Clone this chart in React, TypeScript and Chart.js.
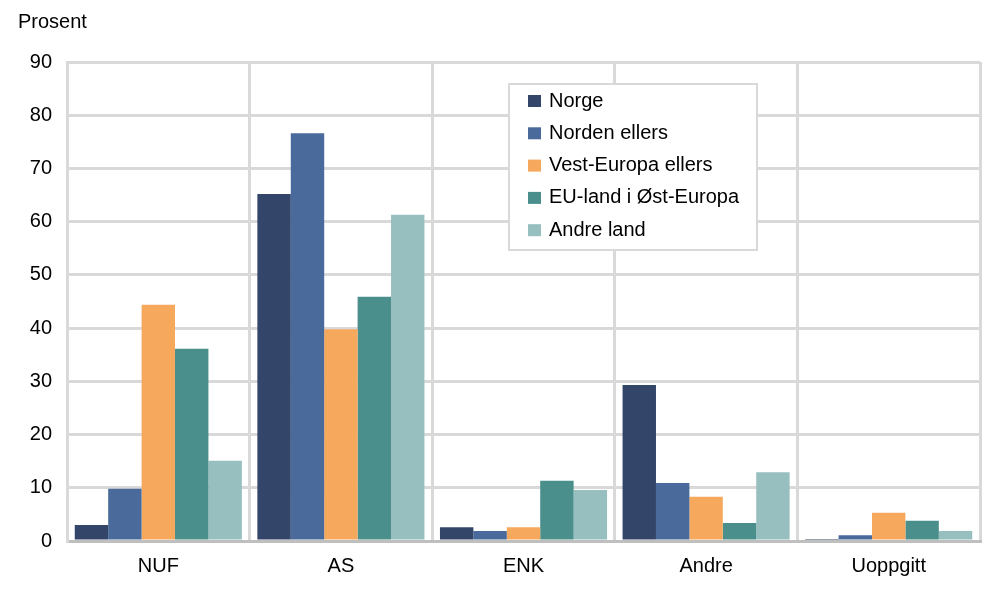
import React, { useEffect, useRef } from "react";
import { Chart, registerables } from "chart.js";

Chart.register(...registerables);

const categories = ["NUF", "AS", "ENK", "Andre", "Uoppgitt"];
const seriesNames = ["Norge", "Norden ellers", "Vest-Europa ellers", "EU-land i Øst-Europa", "Andre land"];
const norge = [3.0, 65.2, 2.6, 29.3, 0.2];
const nordenEllers = [9.8, 76.6, 1.9, 10.9, 1.1];
const vestEuropa = [44.4, 39.8, 2.6, 8.3, 5.3];
const euOstEuropa = [36.1, 45.9, 11.3, 3.4, 3.8];
const andreLand = [15.1, 61.3, 9.6, 12.9, 1.9];
const colors = ["#334669", "#4a6a9c", "#f6a95c", "#4a8f8c", "#98bfbf"];
const yTicks = [0, 10, 20, 30, 40, 50, 60, 70, 80, 90];
const yTitle = "Prosent";

const FONT = "'Liberation Sans', Arial, sans-serif";
const FS = 20;

const legendPlugin = {
  id: "customLegend",
  afterDraw(chart: any) {
    const ctx = chart.ctx;
    ctx.save();
    const x0 = 509, y0 = 84, w = 248, h = 166;
    ctx.fillStyle = "#ffffff";
    ctx.fillRect(x0, y0, w, h);
    ctx.strokeStyle = "#d9d9d9";
    ctx.lineWidth = 2;
    ctx.strokeRect(x0, y0, w, h);
    ctx.font = FS + "px " + FONT;
    ctx.textBaseline = "middle";
    ctx.textAlign = "left";
    chart.data.datasets.forEach((ds: any, i: number) => {
      const cy = y0 + 16 + i * 32.3;
      ctx.fillStyle = ds.backgroundColor;
      ctx.fillRect(x0 + 19, cy - 5, 13, 12);
      ctx.fillStyle = "#000000";
      ctx.fillText(ds.label, x0 + 40, cy + 1);
    });
    ctx.fillText(yTitle, 18, 22);
    ctx.restore();
  },
};

export default function App() {
  const ref = useRef<HTMLCanvasElement | null>(null);
  useEffect(() => {
    const data = [norge, nordenEllers, vestEuropa, euOstEuropa, andreLand];
    const chart = new Chart(ref.current!, {
      type: "bar",
      data: {
        labels: categories,
        datasets: seriesNames.map((name, i) => ({
          label: name,
          data: data[i],
          backgroundColor: colors[i],
          borderWidth: 0,
          categoryPercentage: 0.915,
          barPercentage: 1.0,
        })),
      },
      options: {
        animation: false,
        responsive: false,
        maintainAspectRatio: false,
        layout: { padding: { top: 62, right: 7, left: 0, bottom: 0 } },
        plugins: { legend: { display: false }, tooltip: { enabled: false } },
        scales: {
          x: {
            grid: { color: "#d9d9d9", lineWidth: 3, offset: true, drawTicks: false },
            border: { color: "#bfbfbf", width: 3 },
            ticks: { color: "#000", font: { family: FONT, size: FS }, padding: 13 },
            afterFit: (s: any) => { s.height = 54; },
          },
          y: {
            min: 0,
            max: 90,
            afterBuildTicks: (s: any) => { s.ticks = yTicks.map((v) => ({ value: v })); },
            grid: { color: "#d9d9d9", lineWidth: 3, drawTicks: false },
            border: { color: "#d9d9d9", width: 3 },
            ticks: { color: "#000", font: { family: FONT, size: FS }, padding: 15 },
            afterFit: (s: any) => { s.width = 67; },
          },
        },
      },
      plugins: [legendPlugin],
    });
    return () => chart.destroy();
  }, []);
  return (
    <div style={{ position: "fixed", left: 0, top: 0, width: 987, height: 595, background: "#fff" }}>
      <canvas ref={ref} width={987} height={595} style={{ width: 987, height: 595 }} />
    </div>
  );
}
